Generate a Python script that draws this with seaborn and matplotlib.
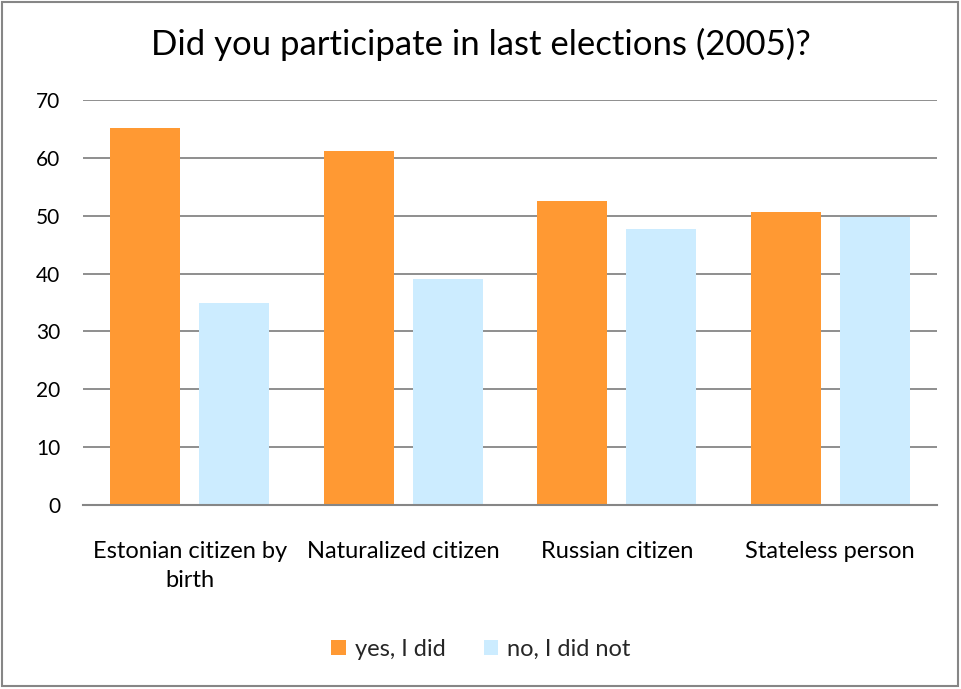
import matplotlib
matplotlib.use("Agg")
import matplotlib.pyplot as plt
from matplotlib.patches import Rectangle
import seaborn as sns
import pandas as pd

categories = ["Estonian citizen by\nbirth", "Naturalized citizen", "Russian citizen", "Stateless person"]
yes_values = [65.2, 61.1, 52.6, 50.7]
no_values = [34.9, 39.0, 47.7, 49.7]
series_names = ["yes, I did", "no, I did not"]
y_ticks = [0, 10, 20, 30, 40, 50, 60, 70]

df = pd.DataFrame({
    "category": categories * 2,
    "value": yes_values + no_values,
    "answer": [series_names[0]] * len(categories) + [series_names[1]] * len(categories),
})

sns.set_theme(style="white")
plt.rcParams["font.family"] = ["Lato", "DejaVu Sans"]

fig = plt.figure(figsize=(9.62, 6.89), dpi=100)
ax = fig.add_axes([0.0863, 0.267, 0.8877, 0.588])

palette = {series_names[0]: "#FF9933", series_names[1]: "#CCECFF"}
sns.barplot(data=df, x="category", y="value", hue="answer", palette=palette,
            order=categories, hue_order=series_names, width=0.834, gap=0.213,
            saturation=1, linewidth=0, ax=ax, legend=True)

ax.set_ylim(0, 70)
ax.set_yticks(y_ticks)
ax.yaxis.grid(True, color="#868686", linewidth=1.3)
ax.set_axisbelow(True)
for s in ["left", "right", "top"]:
    ax.spines[s].set_visible(False)
ax.spines["bottom"].set_color("#868686")
ax.spines["bottom"].set_linewidth(1.5)
ax.tick_params(axis="y", length=0, pad=16.5, labelsize=15, labelcolor="#000000")
ax.tick_params(axis="x", length=0, pad=26, labelsize=17, labelcolor="#000000")
for lbl in ax.get_xticklabels():
    lbl.set_multialignment("center")
    lbl.set_linespacing(1.45)
ax.set_xlabel("")
ax.set_ylabel("")

fig.suptitle("Did you participate in last elections (2005)?", x=0.5, y=0.935,
             va="center", fontsize=25, color="#000000")

ax.legend(loc="center", bbox_to_anchor=(0.5, 0.058), bbox_transform=fig.transFigure,
          ncol=2, frameon=False, fontsize=17, handlelength=0.6, handleheight=0.6,
          columnspacing=1.6, handletextpad=0.4)

fig.patches.append(Rectangle((0.002, 0.004), 0.994, 0.993, transform=fig.transFigure,
                             fill=False, edgecolor="#868686", linewidth=1.5))

fig.savefig("out.png", dpi=100)
